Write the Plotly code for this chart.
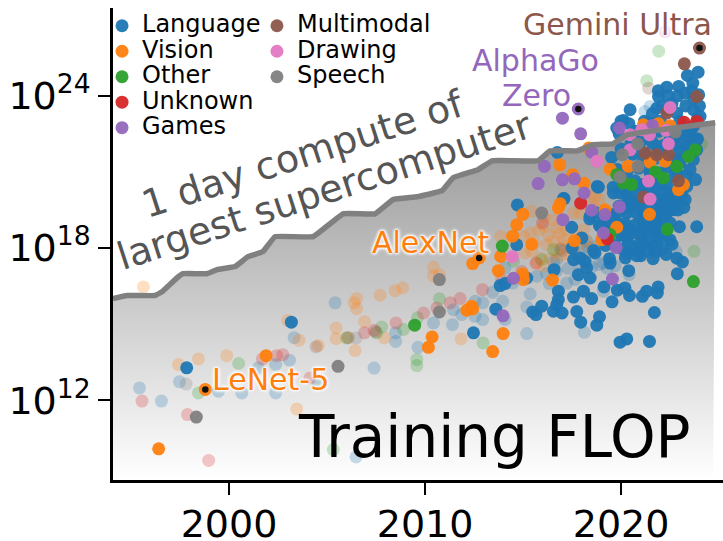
import plotly.graph_objects as go

FONT = "DejaVu Sans"
W, H = 723, 541

super_year = [1994.08,1994.80,1996.22,1996.58,1997.35,1997.65,1998.88,1999.39,2000.31,2000.97,2001.73,2002.35,2004.29,2005.82,2007.45,2008.37,2009.59,2010.87,2011.43,2012.70,2013.42,2015.77,2016.38,2017.76,2018.57,2019.59,2020.31,2024.80]
super_exp = [16.01,16.13,16.13,16.28,16.83,16.99,16.99,17.15,17.27,17.66,17.86,18.45,18.45,19.35,19.35,19.91,20.02,20.26,20.77,21.09,21.44,21.44,21.83,21.83,22.07,22.11,22.46,22.94]

categories = ["Language","Vision","Other","Unknown","Games","Multimodal","Drawing","Speech"]
colors = ["#1f77b4","#ff7f0e","#2ca02c","#d62728","#9467bd","#8c564b","#e377c2","#7f7f7f"]

language_year = [2014.71,2017.09,2017.48,2014.68,2017.58,2017.91,2018.16,2018.25,2016.58,2017.82,2018.42,2015.19,2013.83,2014.08,2016.80,2017.57,2018.08,2018.50,2019.13,2019.81,2020.20,2020.43,2019.54,2021.09,2021.31,2021.85,2021.89,2016.80,2015.95,2015.49,2015.66,2016.55,2016.72,2016.99,2017.74,2017.94,2018.76,2018.90,2021.70,2019.95,2020.29,2021.45,2013.61,2012.47,2023.86,2022.87,2022.84,2023.13,2021.63,2021.00,2020.88,2020.22,2020.39,2019.41,2019.44,2018.67,2022.50,2022.98,2021.74,2020.37,2020.29,2021.05,2021.65,2022.33,2022.50,2021.82,2021.14,2020.29,2019.44,2018.93,2019.10,2018.42,2023.27,2022.67,2022.33,2021.82,2020.80,2019.95,2018.79,
2023.93,2023.38,2023.66,2022.33,2022.94,2021.91,2023.96,2021.82,2020.46,2020.12,2019.78,2016.75,2019.52,2021.65,2022.33,2022.84,2023.69,2023.52,2023.86,2023.35,2023.69,2022.67,2022.84,2021.99,2022.33,2023.35,2021.14,2020.29,2017.06,2018.84,2019.61,2021.82,2020.63,
2023.69,2024.03,2023.18,2022.50,2022.16,2021.48,2023.18,2023.86,2021.14,2021.48,2023.52,2022.50,2021.82,2023.01,
2020.97,2021.48,2022.16,2022.84,2020.46,2020.12,2021.14,2022.16,2022.67,2019.61,2018.76,2021.82,2020.97,2021.99,1997.84,2003.18,
2020.70,2021.30,2021.90,2022.50,2023.10,2023.60,2020.50,2021.00,2021.60,2022.20,2022.80,2023.40,2023.90,2020.00,2020.60,2021.20,2021.80,2022.40,2023.00,2023.50,2019.80,2020.30,2020.90,2021.50,2022.10,2022.70,2023.30,2023.80,2020.10,2020.70,2021.30,2021.90,2022.50,2023.10,2019.60,2020.20,2020.80,2021.40,2022.00,2022.60,2023.20,2019.90,2020.50,2021.10,2021.70,2022.30,2022.90,2019.30,2019.70,2020.30,2020.90,2021.50,2022.10,2022.70,2018.40,2018.90,2019.50,2020.00,2020.60,2021.20,2021.80,2018.60,2019.20,2017.50,2018.00,
2019.60,2020.00,2020.50,2021.00,2021.40,2021.90,2022.30,2019.80,2020.20,2020.70,2021.20,2021.70,2022.20,2019.50,2019.90,2020.40,2020.90,2021.30,2021.80,2019.70,2020.10,2020.60,2021.10,2021.60,2022.10,2022.60,2020.00,2020.50,2021.00,2021.50,2022.00,2020.30,2020.80,2021.30,2021.80,2022.30,2023.00,2023.30,2022.70,2023.50,
2021.20,2021.60,2022.00,2022.60,2023.00,2023.30,2023.70,2024.00,2021.30,2020.90,2020.40,2020.00,2019.90,2022.90,2022.40,2023.90,2023.30,2023.60,2021.90,2022.10]
language_exp = [19.70,19.95,18.82,18.13,17.54,17.61,17.48,17.22,17.15,16.95,16.82,16.82,16.52,16.60,16.30,16.07,16.30,16.01,16.47,16.34,16.43,16.13,15.88,16.10,16.30,16.23,16.47,15.97,15.71,15.48,15.38,15.51,15.77,15.44,15.50,15.08,14.96,15.29,15.46,14.29,14.42,14.32,15.59,14.66,18.84,16.99,17.60,17.45,17.58,17.70,17.85,17.61,17.11,17.58,17.41,17.81,18.32,18.84,18.46,18.20,18.46,18.46,18.86,19.38,18.99,19.38,19.38,19.38,18.99,18.86,18.46,19.25,19.91,19.91,19.91,19.91,19.38,20.17,20.43,
24.93,24.80,24.50,24.34,24.37,23.97,24.04,23.51,23.45,23.03,22.73,21.77,21.57,22.92,23.45,23.32,23.45,22.53,22.27,22.01,21.48,21.48,20.96,20.96,20.43,20.43,20.43,20.04,19.95,20.40,20.17,22.01,22.01,
22.79,23.19,22.79,22.27,21.61,22.53,21.61,21.87,21.48,20.96,21.09,20.04,20.04,20.04,
19.91,20.17,20.30,20.30,19.91,18.86,18.99,18.46,19.51,19.31,19.38,18.99,18.20,18.86,13.28,15.08,
22.60,22.70,22.60,22.75,22.50,22.40,22.10,22.20,22.15,22.05,22.10,22.00,22.30,21.90,21.70,21.75,21.55,21.20,21.35,21.80,21.10,21.00,21.15,21.05,20.75,20.80,20.85,20.70,20.60,20.65,20.55,20.50,20.20,20.15,20.40,20.35,20.10,20.30,19.70,19.75,19.60,19.65,19.70,19.15,18.70,19.55,19.50,19.10,19.05,18.60,19.70,19.10,19.60,19.80,19.15,18.90,18.70,18.55,18.60,18.25,18.10,17.90,18.10,18.00,18.40,
18.70,18.50,18.75,18.60,18.65,18.40,18.70,19.00,18.95,18.90,18.80,19.20,19.25,19.30,19.45,19.60,19.55,19.70,19.75,18.10,17.95,18.00,18.10,18.05,17.95,18.15,20.35,20.45,20.50,20.55,20.60,17.80,17.70,17.90,17.85,17.75,21.80,22.40,22.30,22.60,
23.00,23.30,23.00,23.70,23.00,23.60,23.90,23.60,22.90,22.60,22.90,23.00,22.50,24.00,24.00,23.10,24.10,24.20,24.20,23.60]

vision_year = [2014.99,2014.68,2014.47,2015.44,2013.86,2012.43,2012.76,2013.74,2014.98,2015.02,2016.50,2016.89,2016.80,2017.62,2019.18,2019.78,2019.01,2021.45,2022.93,2023.18,2012.38,2012.13,2012.43,2010.36,2010.17,2013.98,2013.45,2016.87,2017.53,2018.11,2018.35,2019.44,2020.37,2021.48,2022.25,2021.90,2021.14,2022.50,1996.41,1998.79,2001.89]
vision_exp = [19.33,18.92,18.47,18.15,17.67,17.39,17.61,17.11,16.98,16.76,16.74,19.75,19.58,18.29,19.51,18.82,18.33,19.33,20.30,20.50,15.71,15.55,15.60,14.50,14.09,14.63,13.92,21.28,20.89,20.55,21.94,21.11,21.22,21.39,21.42,22.90,22.86,22.82,10.09,12.43,13.76]

other_year = [2013.94,2022.36,2023.69,2009.47,2019.44,2021.74,2019.78,2020.54,2020.12,2023.78,2023.44,2022.84,2022.16]
other_exp = [18.08,18.74,16.68,14.96,18.53,21.00,20.89,20.50,20.56,21.87,21.61,21.22,20.76]

unknown_year = [2017.94,2019.30,2023.21,2023.86]
unknown_exp = [19.77,18.36,22.96,22.99]

games_year = [2017.01,2017.82,2017.94,2016.09,2015.77,2017.01,2017.62,2018.11,2018.50,2019.92,2021.60,2017.03,2018.50,2019.18,2019.92,2019.10,2019.75,2019.56,2014.51,2013.98]
games_exp = [23.12,23.48,22.50,21.22,20.54,20.69,20.73,20.17,21.78,22.73,22.83,19.12,19.49,19.32,19.62,18.59,18.02,16.78,16.81,15.33]

multimodal_year = [2024.00,2023.23,2023.86,2022.93,2021.22,2021.82,2022.42,2022.33,2021.14]
multimodal_exp = [25.88,25.26,23.97,20.65,21.74,21.68,21.68,23.32,20.01]

drawing_year = [2022.50,2022.42,2018.76,2021.40,2021.45,2020.46,2020.46,2022.30,2021.05,2021.48,2014.46]
drawing_exp = [23.54,22.11,21.42,20.64,22.47,22.47,21.87,22.64,22.66,19.93,17.66]

speech_year = [1998.33,2005.56,2010.73,2010.73,2015.95,2020.07,2020.84,2020.87,2019.95,2022.77]
speech_exp = [11.34,13.34,16.76,15.48,19.38,21.68,22.11,21.22,20.80,22.57]

faded_vision_year = [1995.63,1997.42,1998.44,1999.88,2003.00,2003.57,2003.45,2004.56,2005.46,2005.46,2006.38,2006.51,2006.51,2006.91,2006.43,2007.71,2008.47,2008.86,2007.93,2006.04,2010.43,2010.43,2010.73,2011.84,2013.86,2015.44,2016.04,2016.55,2015.36,2015.02,2015.10,2015.44,2016.21,2016.55,2016.89,2017.23,2017.74,2018.08,2017.57,2016.04,2016.04,2015.70,2016.72,2017.06,2018.42,2018.50,2017.91,2018.67,2015.60,2015.80,2016.30,2016.70,2017.10,2017.40,2017.80,2018.20,2015.90,2016.40,2016.90,2017.30,2018.60,2018.90]
faded_vision_exp = [16.47,13.41,13.63,13.76,15.15,14.37,11.66,14.16,14.85,14.43,15.84,16.01,15.61,15.10,13.96,16.14,16.32,16.43,14.46,14.47,17.25,16.90,16.95,14.42,18.46,19.45,19.25,19.12,18.59,18.46,17.81,17.87,18.13,18.27,18.59,18.72,18.46,18.72,19.38,18.86,17.28,17.41,17.87,18.33,20.04,18.00,19.38,20.04,18.20,18.70,18.50,18.80,18.10,18.00,18.10,18.30,17.60,17.60,17.70,17.75,19.60,19.90]

faded_language_year = [1995.43,1996.55,1997.47,1999.46,2000.65,2002.38,2002.38,2003.08,2001.50,2003.32,2005.41,2007.40,2008.50,2008.50,2006.48,2004.56,2009.64,2010.43,2011.40,2011.45,2011.87,2012.55,2012.94,2012.55,2012.94,2014.08,2013.96,2013.45,2015.19,2015.19,2015.36,2014.47,2015.70,2016.34,2017.23,2017.65,2018.13,2019.10,2020.41,2022.81,2014.08,2016.55,2018.25,2019.10,2018.16,2016.72,2021.48,2021.22,2016.20,2016.70,2017.30,2017.90,2018.50,2018.90,2019.30,2019.70,2017.00,2017.60,2018.30,2018.80]
faded_language_exp = [12.49,11.97,12.73,12.36,12.29,12.29,13.42,13.58,13.28,14.47,15.84,13.27,14.66,14.32,9.77,12.69,14.09,15.05,14.98,15.57,15.38,15.90,15.84,15.31,15.18,15.18,15.90,16.26,14.63,15.68,16.19,16.62,16.89,16.60,16.62,16.76,14.68,16.30,16.95,17.87,17.22,17.48,18.27,17.41,17.94,17.54,23.58,23.38,17.00,17.10,17.20,17.30,17.25,17.35,17.20,17.30,17.90,18.00,18.05,18.10]

faded_other_year = [1998.44,2000.49,2005.32,2006.00,2007.79,2007.54,2008.90,2010.73,2009.58,2009.58,2012.96,2023.72,2015.95,2014.51,2009.61,2016.55,2021.65,2021.92,2021.31,2023.18,2024.10]
faded_other_exp = [12.29,13.45,10.06,14.46,14.89,14.66,14.79,16.00,13.61,13.37,14.26,17.87,17.54,17.48,15.25,17.94,18.13,25.76,24.59,23.97,22.10]

faded_unknown_year = [1995.56,1997.88,1998.96,2001.70,2002.43,2002.74,2006.91,2007.40,2008.52,2004.13,2015.99,2015.66,2011.28,2011.79,2012.93,2009.92,2010.60,2013.91,2014.93]
faded_unknown_exp = [11.97,11.44,9.63,13.63,13.76,13.80,14.66,14.76,15.05,12.88,18.99,17.41,15.84,16.01,16.36,15.44,15.64,16.76,17.08]

faded_multimodal_year = [2007.48,2006.09,2016.92,2021.41,2004.44]
faded_multimodal_exp = [14.70,14.47,17.96,24.30,14.11]

faded_drawing_year = [2022.25]
faded_drawing_exp = [26.53]

faded_speech_year = [1997.81,2006.48]
faded_speech_exp = [12.64,14.46]

highlight_year = [1998.79,2012.76,2017.82,2024.00]
highlight_exp = [12.43,17.61,23.48,25.88]

x_range = [1994.08, 2025.2]
y_range = [8.86, 27.46]
tick_years = [2000, 2010, 2020]
tick_exps = [12, 18, 24]
tick_labels = ["10<sup>12</sup>", "10<sup>18</sup>", "10<sup>24</sup>"]

def p10(v):
    return [10.0 ** e for e in v]

fig = go.Figure()
fig.add_trace(go.Scatter(
    x=super_year + [2024.7, super_year[0]],
    y=p10(super_exp + [y_range[0], y_range[0]]),
    mode="none", fill="toself", showlegend=False, hoverinfo="skip",
    fillgradient=dict(type="vertical", colorscale=[[0, "rgb(255,255,255)"], [1, "rgb(150,150,150)"]]),
))

faded = [
    (faded_language_year, faded_language_exp, 0),
    (faded_vision_year, faded_vision_exp, 1),
    (faded_other_year, faded_other_exp, 2),
    (faded_unknown_year, faded_unknown_exp, 3),
    (faded_multimodal_year, faded_multimodal_exp, 5),
    (faded_drawing_year, faded_drawing_exp, 6),
    (faded_speech_year, faded_speech_exp, 7),
]
for xs, ys, c in faded:
    fig.add_trace(go.Scatter(x=xs, y=p10(ys), mode="markers", showlegend=False,
                             marker=dict(size=13, color=colors[c], opacity=0.25, line=dict(width=0))))

solid = [
    (language_year, language_exp), (vision_year, vision_exp), (other_year, other_exp),
    (unknown_year, unknown_exp), (games_year, games_exp), (multimodal_year, multimodal_exp),
    (drawing_year, drawing_exp), (speech_year, speech_exp),
]
for i, (xs, ys) in enumerate(solid):
    fig.add_trace(go.Scatter(
        x=xs, y=p10(ys), mode="markers", name=f'<span style="font-size:24px">{categories[i]}</span>',
        legend="legend" if i < 5 else "legend2",
        marker=dict(size=13, color=colors[i], opacity=0.95, line=dict(width=0))))

fig.add_trace(go.Scatter(x=super_year, y=p10(super_exp), mode="lines", showlegend=False,
                         line=dict(color="rgb(128,128,128)", width=5.5, shape="spline", smoothing=0.25)))
fig.add_trace(go.Scatter(x=highlight_year, y=p10(highlight_exp), mode="markers", showlegend=False,
                         marker=dict(size=6.5, color="#111111", line=dict(width=0))))

halo = ", ".join(["0 0 1px white", "0 0 2px white", "0 0 3px white", "0 0 3px white", "0 0 4px white", "0 0 4px white"])
def label(text, x, e, size, color, angle=0, shadow=halo):
    fig.add_annotation(text=text, x=x, y=e, xref="x", yref="y", showarrow=False, textangle=angle,
                       font=dict(family=FONT, size=size, color=color, shadow=shadow))

label("Training FLOP", 2013.52, 10.57, 58, "black", shadow="none")
label("1 day compute of", 2003.78, 21.72, 38, "rgb(85,85,85)", -18)
label("largest supercomputer", 2004.85, 20.25, 38, "rgb(85,85,85)", -18)
label("LeNet-5", 2002.14, 12.82, 30, colors[1])
label("AlexNet", 2010.26, 18.21, 30, colors[1])
label("Gemini Ultra", 2019.80, 26.80, 30, colors[5])
label("AlphaGo", 2015.61, 25.40, 30, colors[4])
label("Zero", 2015.70, 24.03, 30, colors[4])

legend_common = dict(bgcolor="rgba(0,0,0,0)", borderwidth=0, font=dict(family=FONT, size=17.3, color="black"),
                     itemwidth=30, tracegroupgap=0, xanchor="left", yanchor="top", itemclick=False)
fig.update_layout(
    width=W, height=H, margin=dict(l=113, r=0, t=8, b=60.5, autoexpand=False),
    paper_bgcolor="white", plot_bgcolor="white", hovermode=False,
    font=dict(family=FONT, color="black"),
    legend=dict(x=-0.018, y=1.0, **legend_common),
    legend2=dict(x=0.236, y=1.0, **legend_common),
    xaxis=dict(range=x_range, tickvals=tick_years, ticktext=[str(t) for t in tick_years], showgrid=False, zeroline=False,
               showline=True, linecolor="black", linewidth=2.5, ticks="outside", ticklen=12, tickwidth=2.2,
               tickcolor="black", tickfont=dict(family=FONT, size=38), ticklabelstandoff=-3),
    yaxis=dict(type="log", range=y_range, tickvals=p10(tick_exps), ticktext=tick_labels, showgrid=False, zeroline=False,
               showline=True, linecolor="black", linewidth=2.5, ticks="outside", ticklen=12, tickwidth=2.2,
               tickcolor="black", tickfont=dict(family=FONT, size=38)),
)
fig.write_html("out.html", config={"displayModeBar": False},
               post_script="document.body.style.margin='0';document.body.style.overflow='hidden';")
